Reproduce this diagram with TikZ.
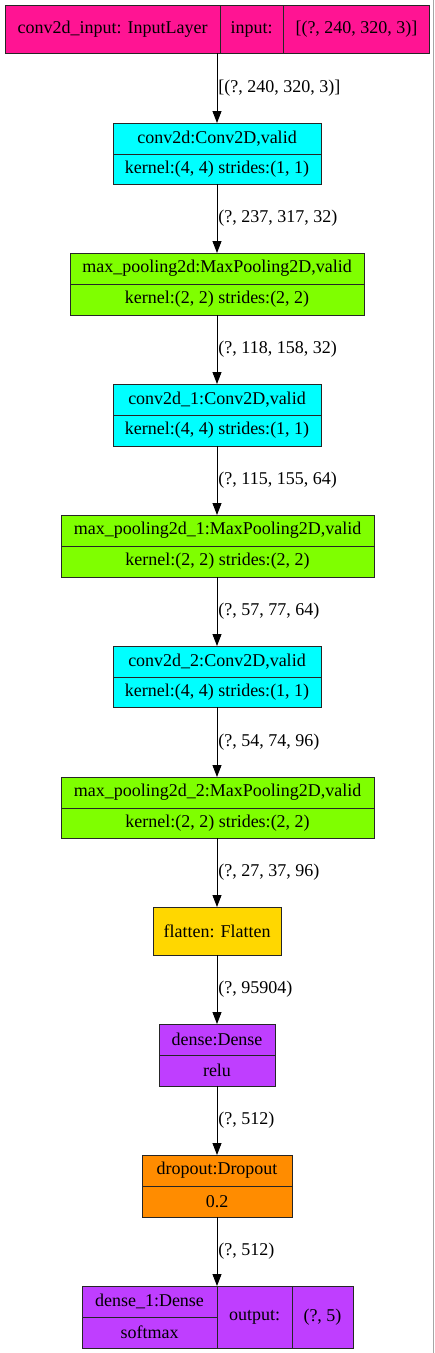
\documentclass[tikz,border=0pt]{standalone}
\usepackage{fontspec}
\setmainfont{Liberation Serif}
\usetikzlibrary{arrows.meta}
\definecolor{inpink}{HTML}{FF1493}
\definecolor{convcyan}{HTML}{00FFFF}
\definecolor{poolgreen}{HTML}{7FFF00}
\definecolor{flatgold}{HTML}{FFD700}
\definecolor{densepurple}{HTML}{BF3EFF}
\definecolor{droporange}{HTML}{FF8C00}
\tikzset{
  cell/.style = {draw = black!85, line width = 0.9pt, inner sep = 0pt, outer sep = 0pt,
                 font = \fontsize{18}{20}\selectfont},
  flow/.style = {-{Triangle[length = 12pt, width = 9pt]}, line width = 0.9pt},
  shapelabel/.style = {anchor = west, inner sep = 1pt, font = \fontsize{18}{20}\selectfont},
}
\begin{document}
\begin{tikzpicture}[x = 1pt, y = -1pt]
                \useasboundingbox (0,0) rectangle (435,1353);
                \draw[gray!70, line width = 1pt] (433.5,0) -- (433.5,1353);
                % input layer
                \node[cell, fill = inpink, minimum width = 215, minimum height = 48] (inname) at (112.5,29) {conv2d\_input: InputLayer};
                \node[cell, fill = inpink, minimum width = 63, minimum height = 48] (inkey) at (251.5,29) {input:};
                \node[cell, fill = inpink, minimum width = 146, minimum height = 48] (inval) at (356.5,29) {[(?, 240, 320, 3)]};
                % conv / pool blocks
                \node[cell, fill = convcyan, minimum width = 208, minimum height = 31] (conv1h) at (217,138.5) {conv2d:Conv2D,valid};
                \node[cell, fill = convcyan, minimum width = 208, minimum height = 30] (conv1k) at (217,169) {kernel:(4, 4) strides:(1, 1)};
                \node[cell, fill = poolgreen, minimum width = 294, minimum height = 31] (pool1h) at (217,268.5) {max\_pooling2d:MaxPooling2D,valid};
                \node[cell, fill = poolgreen, minimum width = 294, minimum height = 31] (pool1k) at (217,299.5) {kernel:(2, 2) strides:(2, 2)};
                \node[cell, fill = convcyan, minimum width = 208, minimum height = 31] (conv2h) at (217,399.5) {conv2d\_1:Conv2D,valid};
                \node[cell, fill = convcyan, minimum width = 208, minimum height = 31] (conv2k) at (217,430.5) {kernel:(4, 4) strides:(1, 1)};
                \node[cell, fill = poolgreen, minimum width = 313, minimum height = 31] (pool2h) at (217.5,530.5) {max\_pooling2d\_1:MaxPooling2D,valid};
                \node[cell, fill = poolgreen, minimum width = 313, minimum height = 31] (pool2k) at (217.5,561.5) {kernel:(2, 2) strides:(2, 2)};
                \node[cell, fill = convcyan, minimum width = 208, minimum height = 31] (conv3h) at (217,661.5) {conv2d\_2:Conv2D,valid};
                \node[cell, fill = convcyan, minimum width = 208, minimum height = 30] (conv3k) at (217,692) {kernel:(4, 4) strides:(1, 1)};
                \node[cell, fill = poolgreen, minimum width = 313, minimum height = 31] (pool3h) at (217.5,792.5) {max\_pooling2d\_2:MaxPooling2D,valid};
                \node[cell, fill = poolgreen, minimum width = 313, minimum height = 30] (pool3k) at (217.5,823) {kernel:(2, 2) strides:(2, 2)};
                % flatten, dense, dropout
                \node[cell, fill = flatgold, minimum width = 128, minimum height = 48] (flat) at (217,931) {flatten: Flatten};
                \node[cell, fill = densepurple, minimum width = 116, minimum height = 31] (dense1h) at (217,1039.5) {dense:Dense};
                \node[cell, fill = densepurple, minimum width = 116, minimum height = 31] (dense1k) at (217,1070.5) {relu};
                \node[cell, fill = droporange, minimum width = 150, minimum height = 31] (droph) at (217,1170.5) {dropout:Dropout};
                \node[cell, fill = droporange, minimum width = 150, minimum height = 31] (dropk) at (217,1201.5) {0.2};
                % output layer
                \node[cell, fill = densepurple, minimum width = 135, minimum height = 31] (outh) at (149.5,1301.5) {dense\_1:Dense};
                \node[cell, fill = densepurple, minimum width = 135, minimum height = 31] (outk) at (149.5,1332.5) {softmax};
                \node[cell, fill = densepurple, minimum width = 75, minimum height = 62] (outkey) at (254.5,1317) {output:};
                \node[cell, fill = densepurple, minimum width = 61, minimum height = 62] (outval) at (322.5,1317) {(?, 5)};
                % connectors
                \draw[flow] (conv1h.north |- inname.south) -- node[shapelabel] {[(?, 240, 320, 3)]} (conv1h.north);
                \draw[flow] (conv1k) -- node[shapelabel] {(?, 237, 317, 32)} (pool1h);
                \draw[flow] (pool1k) -- node[shapelabel] {(?, 118, 158, 32)} (conv2h);
                \draw[flow] (conv2k) -- node[shapelabel] {(?, 115, 155, 64)} (pool2h.north -| conv2h);
                \draw[flow] (pool2k.south -| conv2h) -- node[shapelabel] {(?, 57, 77, 64)} (conv3h);
                \draw[flow] (conv3k) -- node[shapelabel] {(?, 54, 74, 96)} (pool3h.north -| conv3h);
                \draw[flow] (pool3k.south -| conv3h) -- node[shapelabel] {(?, 27, 37, 96)} (flat);
                \draw[flow] (flat) -- node[shapelabel] {(?, 95904)} (dense1h);
                \draw[flow] (dense1k) -- node[shapelabel] {(?, 512)} (droph);
                \draw[flow] (dropk) -- node[shapelabel] {(?, 512)} (outh.north east);
            \end{tikzpicture}
\end{document}
